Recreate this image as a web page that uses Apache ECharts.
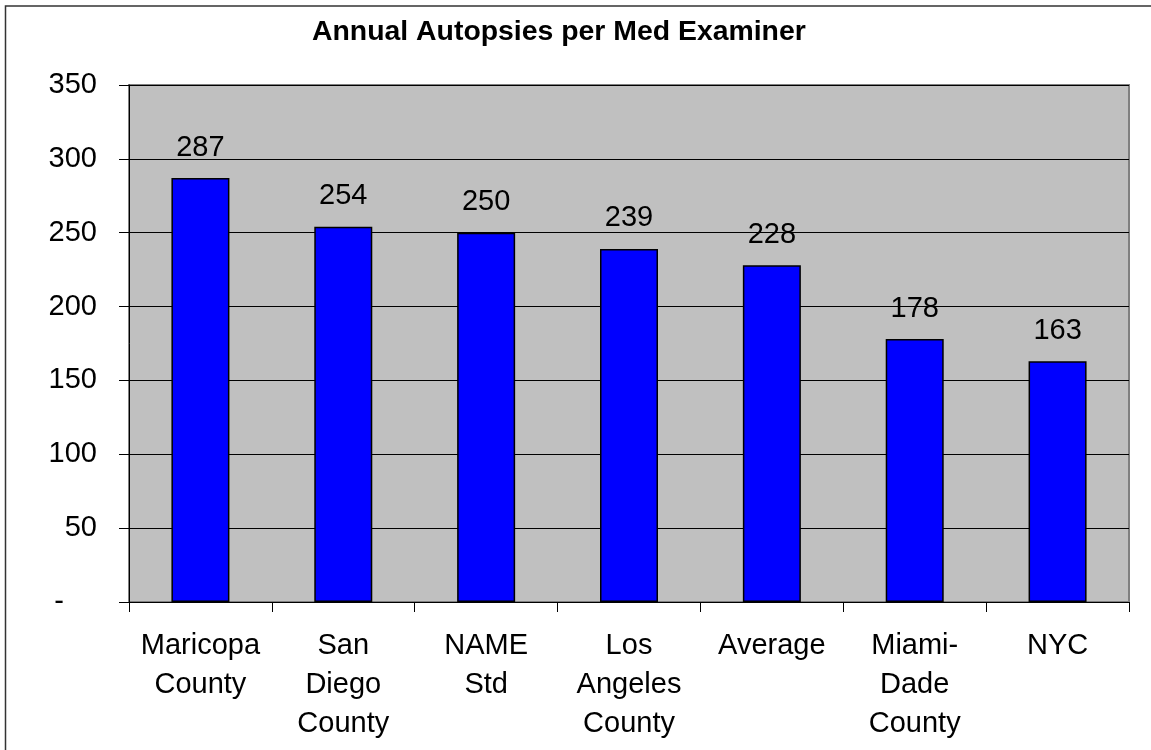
<!DOCTYPE html>
<html>
<head>
<meta charset="utf-8">
<script src="https://cdn.jsdelivr.net/npm/echarts@6/dist/echarts.min.js"></script>
<style>
html,body{margin:0;padding:0;background:#fff;}
#chart{width:1151px;height:750px;}
</style>
</head>
<body>
<div id="chart"></div>
<script>
const titleText = 'Annual Autopsies per Med Examiner';
const categories = ['Maricopa\nCounty', 'San\nDiego\nCounty', 'NAME\nStd', 'Los\nAngeles\nCounty', 'Average', 'Miami-\nDade\nCounty', 'NYC'];
const values = [287, 254, 250, 239, 228, 178, 163];
const yMin = 0, yMax = 350, yStep = 50;

const FONT = '"Liberation Sans", Arial, sans-serif';
const chart = echarts.init(document.getElementById('chart'));
chart.setOption({
  backgroundColor: '#ffffff',
  animation: false,
  title: {
    text: titleText,
    left: 312,
    top: 18,
    padding: 0,
    textStyle: { fontFamily: FONT, fontSize: 28.4, fontWeight: 'bold', color: '#000' }
  },
  graphic: [{
    type: 'rect',
    shape: { x: 5.5, y: 6, width: 1300, height: 900 },
    style: { fill: null, stroke: '#333', lineWidth: 1.5 },
    silent: true
  }],
  grid: {
    left: 129, top: 85, right: 22, bottom: 148,
    show: true, backgroundColor: '#C0C0C0', borderColor: '#808080', borderWidth: 2
  },
  xAxis: {
    type: 'category',
    data: categories,
    axisLine: { lineStyle: { color: '#000', width: 1 } },
    axisTick: { show: true, length: 10, alignWithLabel: false, lineStyle: { color: '#000' } },
    axisLabel: { interval: 0, margin: 25, fontFamily: FONT, fontSize: 29, lineHeight: 38.8, color: '#000', align: 'center' }
  },
  yAxis: {
    type: 'value',
    min: yMin, max: yMax, interval: yStep,
    axisLine: { show: true, lineStyle: { color: '#000', width: 1 } },
    axisTick: { show: true, length: 10, lineStyle: { color: '#000' } },
    splitLine: { show: true, lineStyle: { color: '#000', width: 1 } },
    axisLabel: {
      margin: 32, fontFamily: FONT, fontSize: 29, color: '#000',
      formatter: function (v) { return v === 0 ? '{d|-}' : String(v); },
      rich: { d: { fontFamily: FONT, fontSize: 29, color: '#000', padding: [0, 33, 0, 0] } }
    }
  },
  series: [{
    type: 'bar',
    data: values,
    barWidth: '40.6%',
    itemStyle: { color: '#0000FF', borderColor: '#000', borderWidth: 1.5 },
    label: { show: true, position: 'top', distance: 16, fontFamily: FONT, fontSize: 29, color: '#000' }
  }]
});
</script>
</body>
</html>
